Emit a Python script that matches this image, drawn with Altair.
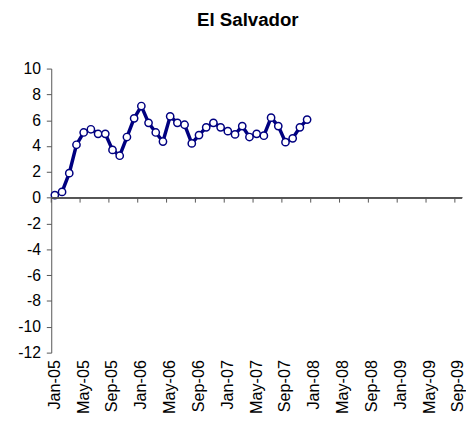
import altair as alt
import pandas as pd

# Category axis: Jan-05 .. Sep-09 (monthly)
month_names = ["Jan", "Feb", "Mar", "Apr", "May", "Jun", "Jul", "Aug", "Sep", "Oct", "Nov", "Dec"]
categories = [f"{m}-{y:02d}" for y in range(5, 10) for m in month_names][:57]

# Labelled / ticked categories (every 4 months)
tick_labels = ["Jan-05", "May-05", "Sep-05", "Jan-06", "May-06", "Sep-06", "Jan-07",
               "May-07", "Sep-07", "Jan-08", "May-08", "Sep-08", "Jan-09", "May-09", "Sep-09"]

# Series values Jan-05 .. Dec-07
values = [0.2, 0.45, 1.9, 4.1, 5.05, 5.3, 4.95, 4.95, 3.7, 3.25, 4.7, 6.15,
          7.1, 5.8, 5.05, 4.35, 6.3, 5.8, 5.65, 4.2, 4.85, 5.45, 5.8, 5.45,
          5.15, 4.9, 5.55, 4.7, 4.95, 4.8, 6.2, 5.55, 4.3, 4.6, 5.45, 6.05]

y_ticks = list(range(-12, 11, 2))

df = pd.DataFrame({"month": categories[:len(values)], "value": values})
ticks_df = pd.DataFrame({"month": tick_labels})

FONT = "Liberation Sans"
NAVY = "#000080"
AXIS = "#555555"

xscale = alt.Scale(domain=categories, paddingInner=0, paddingOuter=0)
yscale = alt.Scale(domain=[-12, 10], nice=False, zero=False)

x_axis = alt.Axis(values=tick_labels, labelAngle=-90, ticks=False, domain=False,
                  title=None, labelFont=FONT, labelFontSize=16.5, labelColor="#000000",
                  labelPadding=7, labelAlign="right", labelBaseline="middle",
                  labelOverlap=False)
y_axis = alt.Axis(values=y_ticks, title=None, grid=False, tickSize=5,
                  tickColor=AXIS, domainColor=AXIS, labelFont=FONT,
                  labelFontSize=16, labelColor="#000000", labelPadding=6,
                  labelOverlap=False, labelExpr="'' + datum.value")

base = alt.Chart(df)

line = base.mark_line(color=NAVY, strokeWidth=3.5).encode(
    x=alt.X("month:O", scale=xscale, sort=categories, axis=x_axis),
    y=alt.Y("value:Q", scale=yscale, axis=y_axis),
)

points = base.mark_point(shape="circle", filled=True, fill="white", stroke=NAVY,
                         strokeWidth=1.5, size=55, opacity=1).encode(
    x=alt.X("month:O", scale=xscale, sort=categories, axis=x_axis),
    y=alt.Y("value:Q", scale=yscale, axis=y_axis),
)

zero_line = alt.Chart(ticks_df).mark_rule(color=AXIS, strokeWidth=1).encode(
    x=alt.value(0),
    x2=alt.value({"expr": "width"}),
    y=alt.datum(0, scale=yscale, axis=y_axis),
)

tick_marks = alt.Chart(ticks_df).mark_rule(color=AXIS, strokeWidth=1).encode(
    x=alt.X("month:O", scale=xscale, sort=categories, bandPosition=0, axis=x_axis),
    y=alt.datum(0, scale=yscale, axis=y_axis),
    y2=alt.datum(-0.38),
)

chart = alt.layer(line, points, zero_line, tick_marks).properties(
    width=418,
    height=289,
    title=alt.Title("El Salvador", font=FONT, fontSize=19, fontWeight="bold",
                    color="#000000", anchor="middle", dx=-9, offset=31),
    autosize="none",
    padding={"left": 44, "top": 58, "right": 4, "bottom": 70},
).configure_view(stroke=None)

chart.save("out.html", embed_options={"renderer": "svg", "actions": False})
